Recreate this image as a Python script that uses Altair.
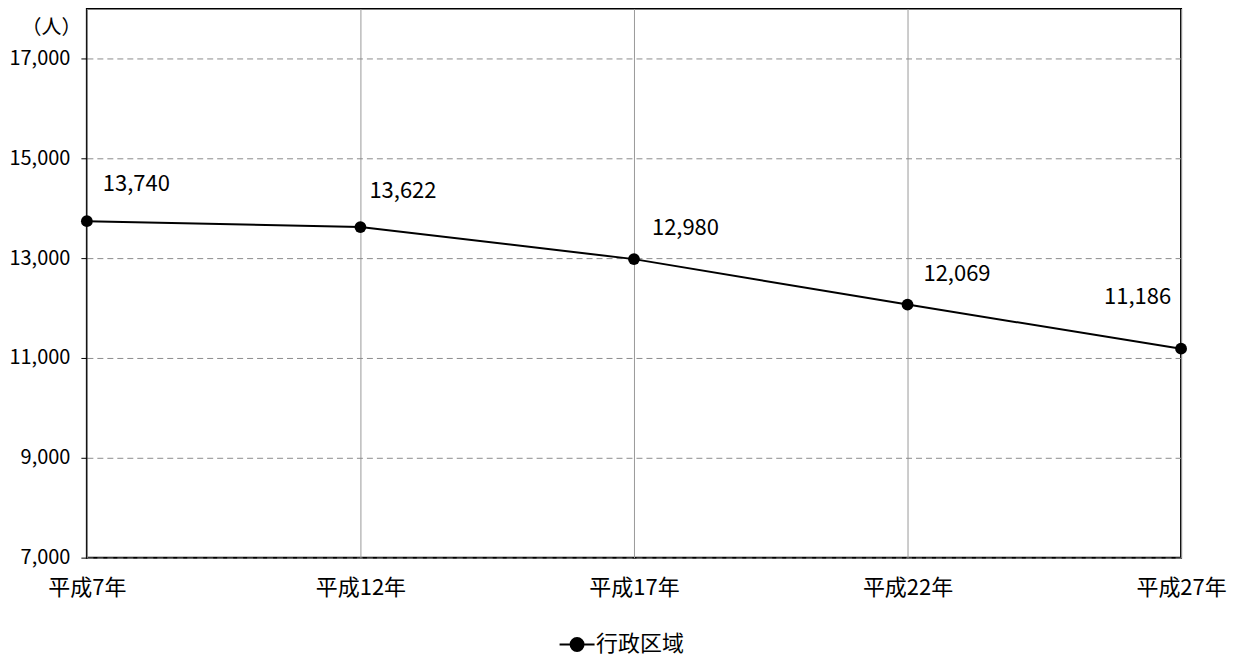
import altair as alt
import pandas as pd

years = ["平成7年", "平成12年", "平成17年", "平成22年", "平成27年"]
population = [13740, 13622, 12980, 12069, 11186]
series = "行政区域"
y_ticks = [7000, 9000, 11000, 13000, 15000, 17000]

df = pd.DataFrame({"year": years, "pop": population, "series": [series] * len(years)})
df["label"] = df["pop"].map(lambda v: f"{v:,}")
df["idx"] = range(len(df))

FONT = "Noto Sans CJK JP"
FS = 22
FSY = 20

x_enc = alt.X("year:N", sort=years, scale=alt.Scale(type="point", padding=0),
              axis=alt.Axis(title=None, labelAngle=0, ticks=False, domain=False,
                            grid=True, gridColor="#9a9a9a", gridWidth=1,
                            labelPadding=20, labelFontSize=FS, labelFont=FONT,
                            labelColor="black"))
y_enc = alt.Y("pop:Q", scale=alt.Scale(domain=[7000, 18000], nice=False, zero=False),
              axis=alt.Axis(values=y_ticks, format=",d", title="（人）", titleAngle=0,
                            titleX=-36, titleY=19, titleAlign="center", titleBaseline="middle",
                            titleFont=FONT, titleFontSize=FSY, titleFontWeight="normal",
                            titleColor="black",
                            domain=False, tickSize=6, tickColor="black", tickWidth=1,
                            grid=True, gridDash=[6, 4], gridColor="#8c8c8c", gridWidth=1,
                            labelPadding=11, labelFontSize=FSY, labelFont=FONT,
                            labelColor="black"))

base = alt.Chart(df)

line = base.mark_line(color="black", strokeWidth=2).encode(x=x_enc, y=y_enc)

points = base.mark_point(filled=True, size=140, opacity=1).encode(
    x=alt.X("year:N", sort=years),
    y="pop:Q",
    color=alt.Color("series:N",
                    scale=alt.Scale(domain=[series], range=["black"]),
                    legend=alt.Legend(orient="none", legendX=472, legendY=618, title=None,
                                      direction="horizontal", padding=0,
                                      symbolType="M-1,0H1M0.37,0A0.37,0.37,0,1,1,-0.37,0A0.37,0.37,0,1,1,0.37,0Z",
                                      symbolSize=1228, symbolStrokeColor="black",
                                      symbolFillColor="black", symbolStrokeWidth=2,
                                      labelFont=FONT, labelFontSize=FS, labelColor="black",
                                      labelOffset=0)),
)

# label placement (style), one per data point
label_styles = [("left", 16, -37), ("left", 9, -36), ("left", 18, -31),
                ("left", 16, -31), ("right", -10, -52)]
label_layers = []
for i, (al, ddx, ddy) in enumerate(label_styles):
    label_layers.append(
        base.transform_filter(f"datum.idx == {i}").mark_text(
            align=al, baseline="middle", dx=ddx, dy=ddy, font=FONT, fontSize=FS, color="black"
        ).encode(x=alt.X("year:N", sort=years), y="pop:Q", text="label:N")
    )

chart = alt.layer(line, points, *label_layers).properties(
    width=1096, height=550,
    padding={"left": 0, "top": 0, "right": 0, "bottom": 0},
).configure_view(stroke="black", strokeWidth=2)

chart.save("out.html", embed_options={"renderer": "svg", "actions": False})
